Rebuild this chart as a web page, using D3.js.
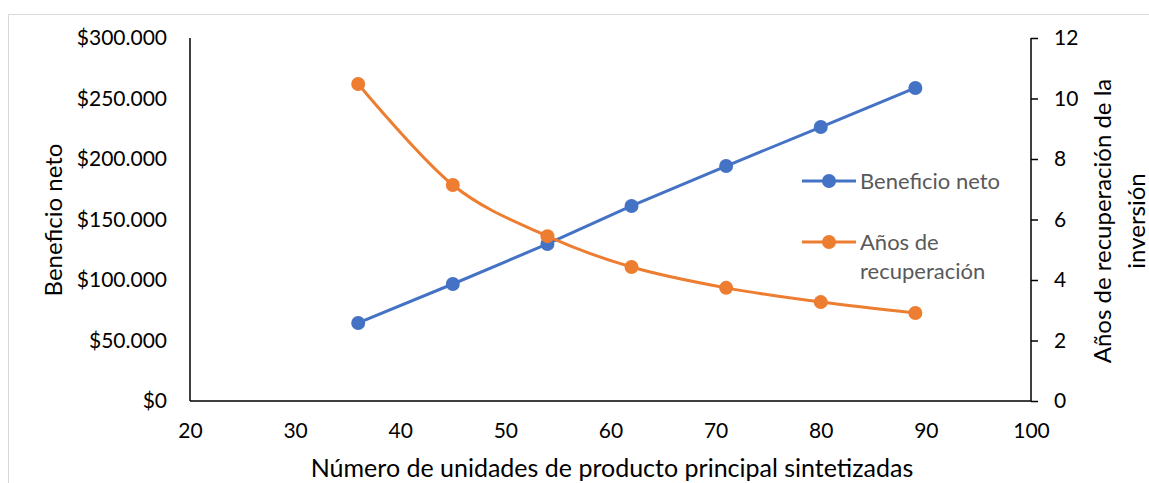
<!DOCTYPE html>
<html>
<head>
<meta charset="utf-8">
<script src="https://cdn.jsdelivr.net/npm/d3@7"></script>
<style>
  html, body { margin: 0; padding: 0; background: #fff; }
  svg { display: block; font-family: Lato, "Open Sans", sans-serif; }
</style>
</head>
<body>
<svg id="chart" width="1149" height="483"></svg>
<script>
// Units produced (x), net profit (left axis) and payback years (right axis)
const unidades = [36, 45, 54, 62, 71, 80, 89];
const beneficioNeto = [64500, 96700, 129800, 161200, 194200, 226400, 258700];
const anosRecuperacion = [10.48, 7.14, 5.45, 4.43, 3.74, 3.27, 2.91];

const xTicks = [20, 30, 40, 50, 60, 70, 80, 90, 100];
const yLeftTicks = [0, 50000, 100000, 150000, 200000, 250000, 300000];
const yRightTicks = [0, 2, 4, 6, 8, 10, 12];

const seriesNames = ["Beneficio neto", "Años de recuperación"];
const colors = ["#4472C4", "#ED7D31"];

const svg = d3.select("#chart");
const plot = { left: 190, right: 1031, top: 38, bottom: 401 };

// Outer chart frame
svg.append("path")
  .attr("d", "M8.5,483 L8.5,14.5 L1149,14.5")
  .attr("fill", "none").attr("stroke", "#d9d9d9").attr("stroke-width", 1);

const x = d3.scaleLinear().domain([20, 100]).range([plot.left, plot.right]);
const yL = d3.scaleLinear().domain([0, 300000]).range([plot.bottom, plot.top]);
const yR = d3.scaleLinear().domain([0, 12]).range([plot.bottom, plot.top]);

const fmtMoney = v => "$" + d3.format(",")(v).replace(/,/g, ".");

// Bottom axis
const gx = svg.append("g").attr("transform", `translate(0,${plot.bottom})`)
  .call(d3.axisBottom(x).tickValues(xTicks).tickSize(0).tickPadding(22));
// Left axis
const gl = svg.append("g").attr("transform", `translate(${plot.left},0)`)
  .call(d3.axisLeft(yL).tickValues(yLeftTicks).tickFormat(fmtMoney).tickSize(0).tickPadding(23));
// Right axis
const gr = svg.append("g").attr("transform", `translate(${plot.right},0)`)
  .call(d3.axisRight(yR).tickValues(yRightTicks).tickSize(7).tickPadding(16));

[gx, gl, gr].forEach(g => {
  g.select(".domain").attr("stroke", "#000").attr("stroke-width", 1.5);
  g.selectAll(".tick line").attr("stroke", "#000").attr("stroke-width", 1.5);
  g.selectAll(".tick text").attr("fill", "#000").style("font-size", "21px")
    .style("font-family", "Lato, 'Open Sans', sans-serif");
});
gx.select(".domain").attr("d", `M${plot.left},0H${plot.right}`);
gl.select(".domain").attr("d", `M0,${plot.top}V${plot.bottom}`);
gr.select(".domain").attr("d", `M0,${plot.top}V${plot.bottom}`);

// Axis titles
svg.append("text").attr("x", 612).attr("y", 477)
  .attr("text-anchor", "middle").style("font-size", "25px").attr("fill", "#000")
  .text("Número de unidades de producto principal sintetizadas");
svg.append("text").attr("transform", "translate(62,220) rotate(-90)")
  .attr("text-anchor", "middle").style("font-size", "24px").attr("fill", "#000")
  .text("Beneficio neto");
const rt = svg.append("text").attr("transform", "translate(1111,221) rotate(-90)")
  .attr("text-anchor", "middle").style("font-size", "24px").attr("fill", "#000");
rt.append("tspan").attr("x", 0).attr("dy", 0).text("Años de recuperación de la");
rt.append("tspan").attr("x", 0).attr("dy", 34).text("inversión");

// Series lines and markers
const dataB = unidades.map((u, i) => [u, beneficioNeto[i]]);
const dataA = unidades.map((u, i) => [u, anosRecuperacion[i]]);

svg.append("path").datum(dataB)
  .attr("d", d3.line().x(d => x(d[0])).y(d => yL(d[1])))
  .attr("fill", "none").attr("stroke", colors[0]).attr("stroke-width", 3);
svg.append("path").datum(dataA)
  .attr("d", d3.line().x(d => x(d[0])).y(d => yR(d[1])).curve(d3.curveCardinal.tension(0)))
  .attr("fill", "none").attr("stroke", colors[1]).attr("stroke-width", 3);

svg.append("g").selectAll("circle").data(dataB).join("circle")
  .attr("cx", d => x(d[0])).attr("cy", d => yL(d[1])).attr("r", 7).attr("fill", colors[0]);
svg.append("g").selectAll("circle").data(dataA).join("circle")
  .attr("cx", d => x(d[0])).attr("cy", d => yR(d[1])).attr("r", 7).attr("fill", colors[1]);

// Legend
const legendRows = [
  { y: 181, lines: ["Beneficio neto"] },
  { y: 242, lines: ["Años de", "recuperación"] }
];
legendRows.forEach((row, i) => {
  const g = svg.append("g").attr("transform", `translate(802,${row.y})`);
  g.append("line").attr("x1", 0).attr("x2", 54).attr("y1", 0).attr("y2", 0)
    .attr("stroke", colors[i]).attr("stroke-width", 3);
  g.append("circle").attr("cx", 27).attr("cy", 0).attr("r", 7).attr("fill", colors[i]);
  const t = g.append("text").attr("x", 58).attr("y", 8).attr("fill", "#595959").style("font-size", "22px");
  row.lines.forEach((s, k) => t.append("tspan").attr("x", 58).attr("dy", k === 0 ? 0 : 29).text(s));
});
</script>
</body>
</html>
